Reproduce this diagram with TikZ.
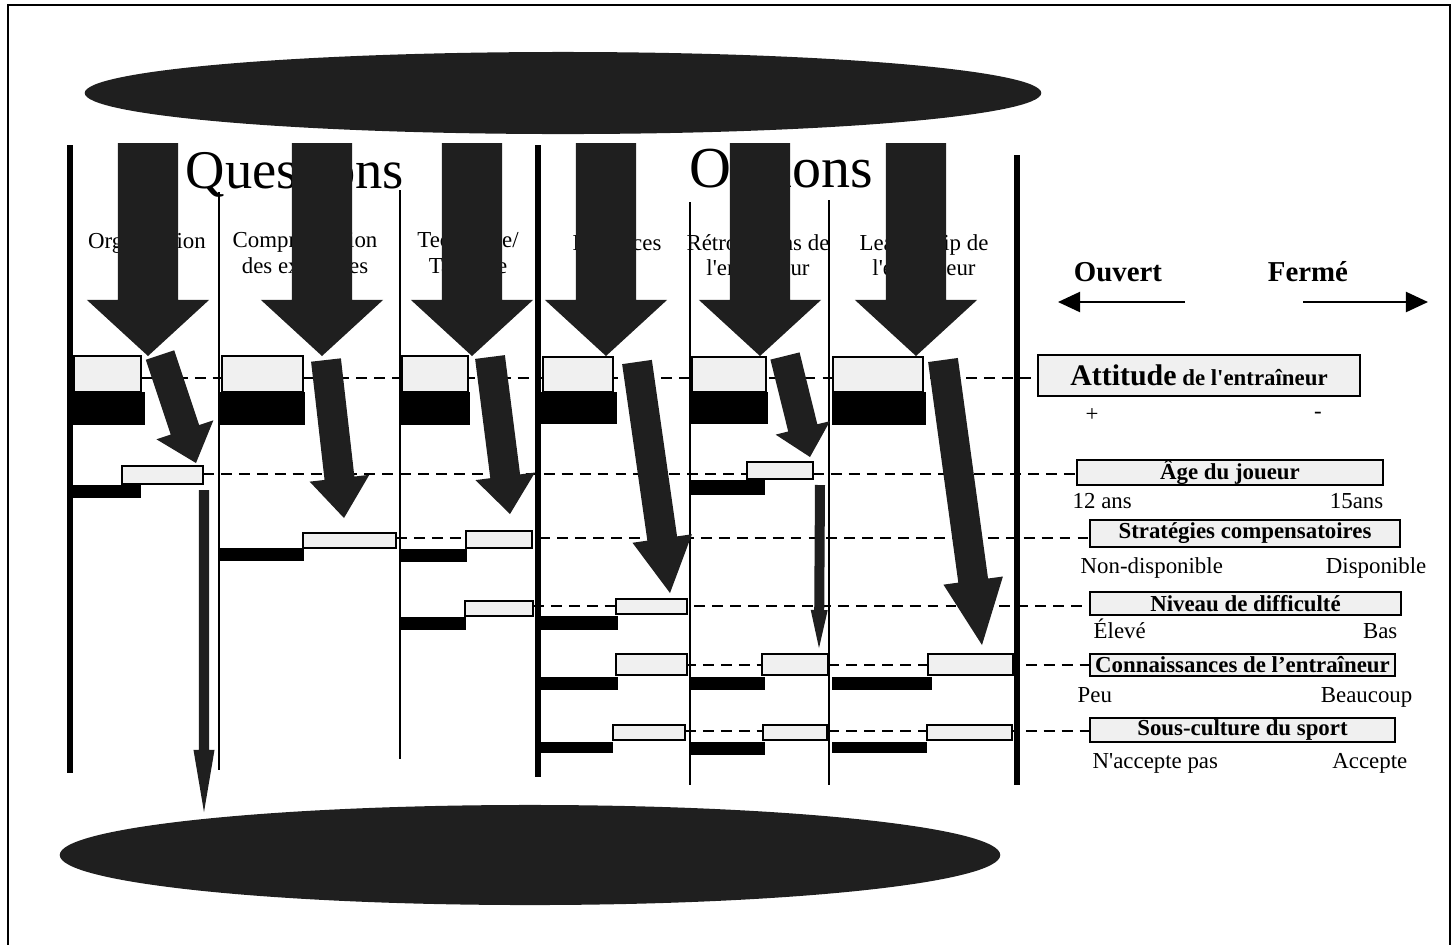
\documentclass[tikz,border=0pt]{standalone}
\usepackage{fontspec}
\setmainfont{Liberation Serif}
\usetikzlibrary{calc,arrows.meta}
\definecolor{speck}{gray}{0.12}
\definecolor{lightfill}{gray}{0.94}
\newcommand\szsmall{\fontsize{6.5}{7.2}\selectfont}
\newcommand\szbig{\fontsize{15.5}{17}\selectfont}
\newcommand\szhead{\fontsize{8.2}{9}\selectfont}
\newcommand\aq{\textquotesingle}
\newcommand\fatarrow[5]{%
  \path #1 coordinate (fa-s) #2 coordinate (fa-t);
  \coordinate (fa-b) at ($(fa-t)!#5!(fa-s)$);
  \fill[speck] ($(fa-s)!#3!90:(fa-t)$) -- ($(fa-b)!#3!90:(fa-t)$) -- ($(fa-b)!#4!90:(fa-t)$) -- (fa-t) -- ($(fa-b)!#4!-90:(fa-t)$) -- ($(fa-b)!#3!-90:(fa-t)$) -- ($(fa-s)!#3!-90:(fa-t)$) -- cycle;
}
\begin{document}
\begin{tikzpicture}[x=0.01cm,y=-0.01cm,
  thickline/.style={line width=1.7pt},
  thinline/.style={line width=0.6pt},
  dashrow/.style={line width=0.7pt, dash pattern=on 3.1pt off 2pt},
  lbox/.style={draw, line width=0.6pt, fill=lightfill},
  bbar/.style={fill=black},
  collabel/.style={font=\szsmall, align=center, inner sep=0pt},
  rbox/.style={draw, line width=0.7pt, fill=lightfill, inner sep=0pt, font=\szsmall\bfseries},
  lab/.style={font=\szsmall, inner sep=0pt},
  sidearrow/.style={line width=0.6pt, -{Triangle[width=0.2cm,length=0.22cm]}}
]
\useasboundingbox (0,0) rectangle (1456,944);
% frame
\draw[line width=0.6pt] (8,946) -- (8,5) -- (1450,5) -- (1450,946);

% ellipses
\fill[speck] (563,93) ellipse [x radius=4.78cm, y radius=0.41cm];
\fill[speck] (530,855) ellipse [x radius=4.70cm, y radius=0.50cm];

% titles
\node[font=\szbig, inner sep=0pt] (tq) at (295,175) {Questions};
\node[font=\fontsize{16.5}{18}\selectfont, inner sep=0pt] (to) at (781,174) {Options};

% column labels
\node[collabel] (l1) at (147,243) {Organisation};
\node[collabel] (l2) at (305,255) {Compréhension\\des exigences};
\node[collabel] (l3) at (468,255) {Technique/\\Tactique};
\node[collabel] (l4) at (617,243) {Exercices};
\node[collabel] (l5) at (758,255) {Rétroactions de\\l\aq entraîneur};
\node[collabel] (l6) at (924,255) {Leadership de\\l\aq entraîneur};

% column lines
\draw[thickline] (70,145) -- (70,773);
\draw[thickline] (538,145) -- (538,777);
\draw[thickline] (1017,155) -- (1017,785);
\draw[thinline] (219,192) -- (219,770);
\draw[thinline] (400,190) -- (400,759);
\draw[thinline] (690,202) -- (690,785);
\draw[thinline] (829,200) -- (829,785);

% right side
\node[font=\szhead\bfseries, inner sep=0pt] (ouv) at (1118,272) {Ouvert};
\node[font=\szhead\bfseries, inner sep=0pt] (fer) at (1308,272) {Fermé};
\coordinate (oa1) at (1185,302); \coordinate (oa2) at (1058,302);
\coordinate (fa1) at (1303,302); \coordinate (fa2) at (1428,302);
\draw[sidearrow] (oa1) -- (oa2);
\draw[sidearrow] (fa1) -- (fa2);

\node[rbox, minimum width=3.22cm, minimum height=0.41cm] (att) at (1199,375.5)
  {{\fontsize{8.5}{9}\selectfont Attitude} de l\aq entraîneur};
\node[lab] (plus) at (1092,415) {+};
\node[lab] (minus) at (1318,415) {-};
\node[rbox, minimum width=3.06cm, minimum height=0.25cm] (age) at (1230,472.5) {Âge du joueur};
\node[lab, anchor=base west] (a12) at (1072,508) {12 ans};
\node[lab, anchor=base east] (a15) at (1384,508) {15ans};
\node[rbox, minimum width=3.10cm, minimum height=0.27cm] (strat) at (1245,533.5) {Stratégies compensatoires};
\node[lab, anchor=base west] (nd) at (1080,573) {Non-disponible};
\node[lab, anchor=base east] (dd) at (1427,573) {Disponible};
\node[rbox, minimum width=3.11cm, minimum height=0.23cm] (niv) at (1245.5,603.5) {Niveau de difficulté};
\node[lab, anchor=base west] (ele) at (1093,638) {Élevé};
\node[lab, anchor=base east] (bas) at (1398,638) {Bas};
\node[rbox, minimum width=3.05cm, minimum height=0.22cm] (conn) at (1242.5,665) {Connaissances de l’entraîneur};
\node[lab, anchor=base west] (peu) at (1077,702) {Peu};
\node[lab, anchor=base east] (bcp) at (1413,702) {Beaucoup};
\node[rbox, minimum width=3.05cm, minimum height=0.24cm] (sous) at (1242.5,730) {Sous-culture du sport};
\node[lab, anchor=base west] (nap) at (1092,768) {N\aq accepte pas};
\node[lab, anchor=base east] (acc) at (1408,768) {Accepte};

% dashed rows
\coordinate (s0) at (141,378);
\coordinate (s1) at (203,474);
\coordinate (s2) at (396,538);
\coordinate (s3) at (533,606);
\coordinate (s4) at (685,665);
\coordinate (s5) at (685,731);
\draw[dashrow] (s0) -- (s0 -| att.west);
\draw[dashrow] (s1) -- (s1 -| age.west);
\draw[dashrow] (s2) -- (s2 -| strat.west);
\draw[dashrow] (s3) -- (s3 -| niv.west);
\draw[dashrow] (s4) -- (s4 -| conn.west);
\draw[dashrow] (s5) -- (s5 -| sous.west);

% row 0 (attitude)
\draw[lbox] (74,356) rectangle (141,392);  \fill[bbar] (70,392) rectangle (145,425);
\draw[lbox] (222,356) rectangle (303,392); \fill[bbar] (219,392) rectangle (305,425);
\draw[lbox] (402,356) rectangle (468,392); \fill[bbar] (400,392) rectangle (470,425);
\draw[lbox] (543,357) rectangle (613,392); \fill[bbar] (538,392) rectangle (617,424);
\draw[lbox] (692,357) rectangle (766,392); \fill[bbar] (690,392) rectangle (768,424);
\draw[lbox] (833,357) rectangle (923,392); \fill[bbar] (832,392) rectangle (926,425);
% row 1 (age)
\draw[lbox] (122,466) rectangle (203,484); \fill[bbar] (70,485) rectangle (141,498);
\draw[lbox] (747,462) rectangle (813,479); \fill[bbar] (690,480) rectangle (765,495);
% row 2 (strategies)
\draw[lbox] (303,533) rectangle (396,548); \fill[bbar] (219,548) rectangle (304,561);
\draw[lbox] (466,531) rectangle (532,548); \fill[bbar] (400,549) rectangle (467,562);
% row 3 (niveau)
\draw[lbox] (465,601) rectangle (533,616); \fill[bbar] (400,617) rectangle (466,630);
\draw[lbox] (616,599) rectangle (687,614); \fill[bbar] (538,616) rectangle (618,630);
% row 4 (connaissances)
\draw[lbox] (616,654) rectangle (687,675); \fill[bbar] (538,677) rectangle (618,690);
\draw[lbox] (762,654) rectangle (828,675); \fill[bbar] (690,677) rectangle (765,690);
\draw[lbox] (928,654) rectangle (1013,675); \fill[bbar] (832,677) rectangle (932,690);
% row 5 (sous-culture)
\draw[lbox] (613,725) rectangle (685,740); \fill[bbar] (538,742) rectangle (613,753);
\draw[lbox] (763,725) rectangle (827,740); \fill[bbar] (690,742) rectangle (765,755);
\draw[lbox] (927,725) rectangle (1012,740); \fill[bbar] (832,742) rectangle (927,753);

% big downward arrows
\foreach \cx in {148,322,472,606,760,916} {
  \fatarrow{(\cx,143)}{(\cx,356)}{0.30cm}{0.61cm}{0.56cm}
}
% diagonal arrows
\fatarrow{(160,355)}{(196,463)}{0.15cm}{0.30cm}{0.35cm}
\fatarrow{(326,360)}{(344,518)}{0.15cm}{0.30cm}{0.40cm}
\fatarrow{(490,357)}{(510,514)}{0.15cm}{0.30cm}{0.38cm}
\fatarrow{(637,362)}{(670,593)}{0.15cm}{0.30cm}{0.55cm}
\fatarrow{(785,356)}{(810,457)}{0.15cm}{0.28cm}{0.30cm}
\fatarrow{(943,360)}{(982,645)}{0.15cm}{0.30cm}{0.65cm}
% thin arrows
\fatarrow{(204,490)}{(204,812)}{0.05cm}{0.105cm}{0.62cm}
\fatarrow{(820,485)}{(819,648)}{0.05cm}{0.085cm}{0.38cm}
\end{tikzpicture}
\end{document}
